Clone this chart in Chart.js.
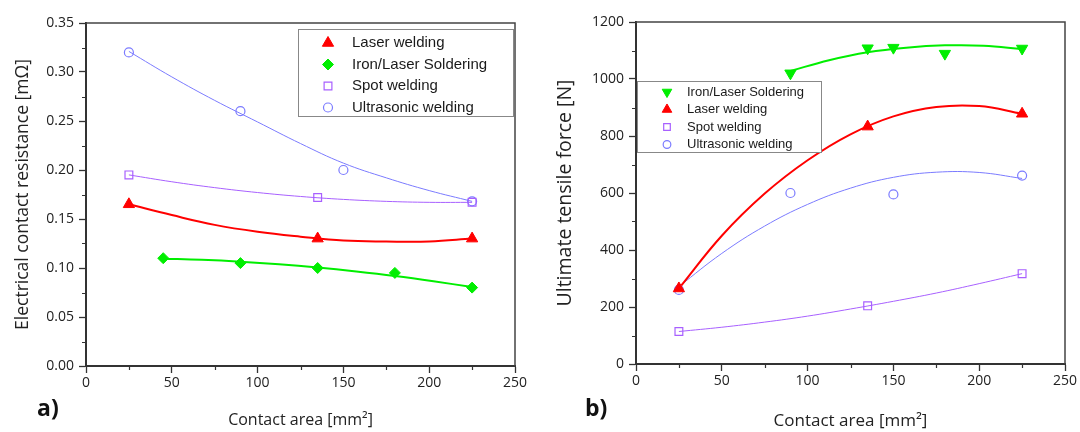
<!DOCTYPE html>
<html lang="en">
<head>
<meta charset="UTF-8">
<title>Contact resistance and tensile force</title>
<script src="https://cdn.jsdelivr.net/npm/chart.js"></script>
<style>
  body { margin: 0; background: #fff; width: 1080px; height: 432px; overflow: hidden; position: relative; font-family: "Open Sans", sans-serif; }
  .panel { position: absolute; top: 0; width: 540px; height: 432px; }
  #wrapA { left: 0; }
  #wrapB { left: 540px; }
  .tag { position: absolute; font-weight: bold; font-size: 23px; color: #111; line-height: 1; }
</style>
</head>
<body>
<div class="panel" id="wrapA"><canvas id="chartA" width="540" height="432"></canvas></div>
<div class="panel" id="wrapB"><canvas id="chartB" width="540" height="432"></canvas></div>
<div class="tag" style="left:37px;top:396px">a)</div>
<div class="tag" style="left:585px;top:396px">b)</div>

<script>
// ---- panel a) electrical contact resistance [mΩ] ----
const aLaserX = [25, 135, 225];
const aLaserY = [0.165, 0.130, 0.130];
const aIronX = [45, 90, 135, 180, 225];
const aIronY = [0.110, 0.105, 0.100, 0.095, 0.080];
const aSpotX = [25, 135, 225];
const aSpotY = [0.195, 0.172, 0.167];
const aUltraX = [25, 90, 150, 225];
const aUltraY = [0.320, 0.260, 0.200, 0.168];

// fitted curves
const fitX = [25, 50, 75, 100, 125, 150, 175, 200, 225];
const aLaserFit = [0.165, 0.154, 0.144, 0.137, 0.132, 0.128, 0.127, 0.127, 0.130];
const aSpotFit = [0.195, 0.188, 0.182, 0.177, 0.173, 0.170, 0.168, 0.167, 0.167];
const aUltraFit = [0.321, 0.295, 0.271, 0.249, 0.227, 0.207, 0.192, 0.179, 0.168];
const aIronFitX = [45, 67.5, 90, 112.5, 135, 157.5, 180, 202.5, 225];
const aIronFit = [0.1095, 0.1083, 0.1064, 0.1038, 0.1005, 0.0965, 0.0919, 0.0865, 0.0805];

// ---- panel b) ultimate tensile force [N] ----
const bIronX = [90, 135, 150, 180, 225];
const bIronY = [1020, 1108, 1110, 1089, 1107];
const bLaserX = [25, 135, 225];
const bLaserY = [265, 833, 878];
const bSpotX = [25, 135, 225];
const bSpotY = [114, 204, 317];
const bUltraX = [25, 90, 150, 225];
const bUltraY = [260, 600, 595, 661];

const bIronFitX = [90, 112.5, 135, 157.5, 180, 202.5, 225];
const bIronFit = [1028, 1066, 1094, 1110, 1118, 1117, 1105];
const bLaserFit = [265, 450, 598, 715, 806, 869, 902, 905, 878];
const bSpotFit = [114, 129, 147, 168, 193, 220, 249, 282, 317];
const bUltraFit = [272, 388, 484, 560, 617, 655, 673, 672, 651];

const RED = '#ff0000', GREEN = '#00ee00', VIOLET = '#a860ff', BLUE = '#7b7bff';
const NONE = 'rgba(0,0,0,0)';

function pts(xs, ys) { return xs.map((x, i) => ({ x: x, y: ys[i] })); }

function markers(label, xs, ys, color, style, r, filled, rot) {
  return {
    label: label, data: pts(xs, ys), showLine: false,
    pointStyle: style, pointRadius: r, pointRotation: rot || 0,
    pointBackgroundColor: filled ? color : NONE, pointBorderColor: color,
    pointBorderWidth: filled ? 1 : 1.2, borderColor: color, backgroundColor: filled ? color : NONE
  };
}

function fit(xs, ys, color, w) {
  return { label: '', isFit: true, data: pts(xs, ys), showLine: true, borderColor: color, borderWidth: w,
           pointRadius: 0, tension: 0.4, fill: false };
}

// frame on top/right, minor ticks and a boxed legend
const framePlugin = {
  id: 'frame',
  afterDraw(chart, args, o) {
    const { ctx, chartArea: a, scales: { x, y } } = chart;
    ctx.save();
    ctx.strokeStyle = '#444';
    ctx.lineWidth = 1.5;
    ctx.beginPath();
    ctx.moveTo(a.left, a.top); ctx.lineTo(a.right, a.top); ctx.lineTo(a.right, a.bottom);
    ctx.stroke();

    ctx.strokeStyle = '#333';
    ctx.lineWidth = 1.2;
    ctx.beginPath();
    for (let v = o.xMinor; v < x.max; v += o.xStep) {
      const px = Math.round(x.getPixelForValue(v)) + 0.5;
      ctx.moveTo(px, a.bottom); ctx.lineTo(px, a.bottom + 4);
    }
    for (let v = o.yMinor; v < y.max; v += o.yStep) {
      const py = Math.round(y.getPixelForValue(v)) + 0.5;
      ctx.moveTo(a.left, py); ctx.lineTo(a.left - 4, py);
    }
    ctx.stroke();

    // legend
    const L = o.legend;
    ctx.fillStyle = '#fff';
    ctx.fillRect(L.left, L.top, L.width, L.height);
    ctx.strokeStyle = '#888';
    ctx.lineWidth = 1;
    ctx.strokeRect(L.left + 0.5, L.top + 0.5, L.width, L.height);
    ctx.font = L.font;
    ctx.textBaseline = 'middle';
    const items = chart.data.datasets.filter(d => !d.isFit);
    items.forEach((d, i) => {
      const cy = L.top + L.firstRow + i * L.rowH;
      ctx.fillStyle = d.pointBackgroundColor;
      ctx.strokeStyle = d.pointBorderColor;
      ctx.lineWidth = d.pointBorderWidth;
      Chart.helpers.drawPoint(ctx, {
        pointStyle: d.pointStyle, rotation: d.pointRotation,
        radius: d.pointRadius * L.scale, borderWidth: d.pointBorderWidth
      }, L.markerX, cy);
      ctx.fillStyle = '#1a1a1a';
      ctx.fillText(d.label, L.textX, cy);
    });
    ctx.restore();
  }
};

function axisBase() {
  return {
    type: 'linear',
    grid: { drawOnChartArea: false, drawTicks: true, tickLength: 7, tickColor: '#333', tickWidth: 1.3 },
    border: { display: true, color: '#333', width: 2 },
    ticks: { color: '#222', font: { family: 'Open Sans', size: 14 } }
  };
}

function makeChart(id, datasets, cfg) {
  const xAxis = axisBase();
  xAxis.min = 0; xAxis.max = 250;
  xAxis.ticks.stepSize = 50;
  xAxis.ticks.padding = 2;
  xAxis.title = { display: true, text: 'Contact area [mm²]', color: '#222',
    font: { family: 'Open Sans', size: cfg.xTitleSize, lineHeight: 1 },
    padding: { top: cfg.xTitlePad, bottom: cfg.xTitlePad } };
  xAxis.afterFit = s => { s.height = cfg.xHeight; };

  const yAxis = axisBase();
  yAxis.min = cfg.yMin; yAxis.max = cfg.yMax;
  yAxis.ticks.stepSize = cfg.yStep;
  yAxis.ticks.padding = 5;
  yAxis.ticks.callback = cfg.yFormat;
  yAxis.title = { display: true, text: cfg.yTitle, color: '#222',
    font: { family: 'Open Sans', size: cfg.yTitleSize, lineHeight: 1 },
    padding: { top: cfg.yTitlePad, bottom: cfg.yTitlePad } };
  yAxis.afterFit = s => { s.width = cfg.yWidth; };

  return new Chart(document.getElementById(id), {
    type: 'scatter',
    data: { datasets: datasets },
    options: {
      responsive: false,
      animation: false,
      devicePixelRatio: 1,
      layout: { padding: cfg.padding },
      scales: { x: xAxis, y: yAxis },
      plugins: {
        legend: { display: false },
        tooltip: { enabled: false },
        frame: {
          xMinor: 25, xStep: 50, yMinor: cfg.yStep / 2, yStep: cfg.yStep,
          legend: cfg.legend
        }
      }
    },
    plugins: [framePlugin]
  });
}

makeChart('chartA', [
  markers('Laser welding', aLaserX, aLaserY, RED, 'triangle', 6.5, true),
  markers('Iron/Laser Soldering', aIronX, aIronY, GREEN, 'rectRot', 5.5, true),
  markers('Spot welding', aSpotX, aSpotY, VIOLET, 'rect', 5.5, false),
  markers('Ultrasonic welding', aUltraX, aUltraY, BLUE, 'circle', 4.5, false),
  fit(fitX, aLaserFit, RED, 2),
  fit(aIronFitX, aIronFit, GREEN, 2),
  fit(fitX, aSpotFit, VIOLET, 1),
  fit(fitX, aUltraFit, BLUE, 1)
], {
  padding: { left: 0, top: 23, right: 25, bottom: 0 },
  xHeight: 66, yWidth: 86,
  yMin: 0, yMax: 0.35, yStep: 0.05, yFormat: v => v.toFixed(2),
  yTitle: 'Electrical contact resistance [mΩ]', yTitleSize: 17.5, yTitlePad: 14,
  xTitleSize: 16, xTitlePad: 4,
  legend: { left: 298, top: 29, width: 215, height: 87, firstRow: 14, rowH: 21.5,
            markerX: 328, textX: 352, font: '15px "Liberation Sans", Arial, sans-serif', scale: 1 }
});

makeChart('chartB', [
  markers('Iron/Laser Soldering', bIronX, bIronY, GREEN, 'triangle', 6.5, true, 180),
  markers('Laser welding', bLaserX, bLaserY, RED, 'triangle', 6.5, true),
  markers('Spot welding', bSpotX, bSpotY, VIOLET, 'rect', 5.5, false),
  markers('Ultrasonic welding', bUltraX, bUltraY, BLUE, 'circle', 4.5, false),
  fit(bIronFitX, bIronFit, GREEN, 2),
  fit(fitX, bLaserFit, RED, 2),
  fit(fitX, bSpotFit, VIOLET, 1),
  fit(fitX, bUltraFit, BLUE, 1)
], {
  padding: { left: 0, top: 22, right: 15, bottom: 0 },
  xHeight: 68, yWidth: 96,
  yMin: 0, yMax: 1200, yStep: 200, yFormat: v => String(v),
  yTitle: 'Ultimate tensile force [N]', yTitleSize: 19.5, yTitlePad: 16,
  xTitleSize: 17, xTitlePad: 2,
  legend: { left: 97, top: 81, width: 184, height: 71, firstRow: 11, rowH: 17.5,
            markerX: 127, textX: 147, font: '13px "Liberation Sans", Arial, sans-serif', scale: 0.85 }
});
</script>
</body>
</html>
